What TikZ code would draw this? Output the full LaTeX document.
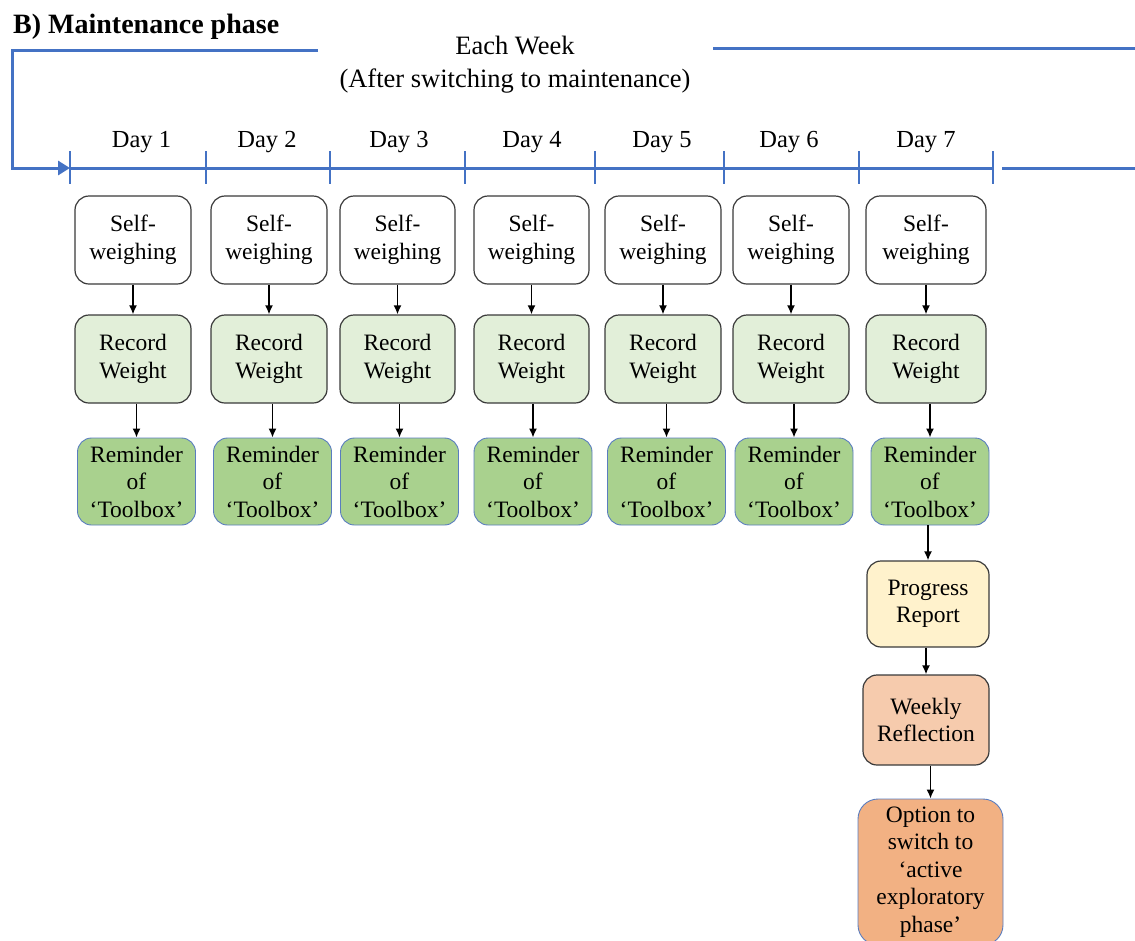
\documentclass[tikz,border=0pt]{standalone}
\usepackage{fontspec}
\setmainfont{Liberation Serif}
\usetikzlibrary{arrows.meta}

\definecolor{axisblue}{HTML}{4472C4}
\definecolor{boxline}{HTML}{3A3A3A}
\definecolor{remblue}{HTML}{5A7DBF}
\definecolor{recgreen}{HTML}{E2EFD9}
\definecolor{remgreen}{HTML}{A9D18E}
\definecolor{progyellow}{HTML}{FFF2CC}
\definecolor{reflpeach}{HTML}{F6CBAD}
\definecolor{optorange}{HTML}{F2B183}

\tikzset{
  stepbox/.style={draw=boxline, line width=1.2pt, rounded corners=14pt,
    align=center, inner sep=0pt, minimum width=116pt, minimum height=88pt,
    font=\fontsize{23.5}{27.5}\selectfont},
  weighbox/.style={stepbox, fill=white},
  recordbox/.style={stepbox, fill=recgreen},
  remindbox/.style={stepbox, draw=remblue, line width=0.9pt, fill=remgreen,
    minimum width=118pt, minimum height=87pt},
  progressbox/.style={stepbox, fill=progyellow, minimum width=122pt, minimum height=86pt},
  reflectbox/.style={stepbox, fill=reflpeach, minimum width=126pt, minimum height=90pt},
  optionbox/.style={stepbox, draw=remblue, line width=0.9pt, fill=optorange,
    minimum width=145pt, minimum height=146pt, rounded corners=20pt},
  flow/.style={-{Latex[length=9pt,width=8pt]}, line width=1.6pt, black},
  axis/.style={draw=axisblue, line width=3pt},
  tickmark/.style={draw=axisblue, line width=1.4pt},
  daylabel/.style={anchor=base, inner sep=0pt, font=\fontsize{24.5}{29}\selectfont},
  headlabel/.style={anchor=base, inner sep=0pt, font=\fontsize{26.5}{33}\selectfont},
}

\begin{document}
\begin{tikzpicture}[x=1pt, y=-1pt]
\useasboundingbox (0,0) rectangle (1135,940);
\clip (0,0) rectangle (1135,940);

% title and week header
\node[anchor=base west, inner sep=0pt, font=\fontsize{28}{32}\bfseries\selectfont]
  (title) at (13,33) {B) Maintenance phase};
\node[headlabel] (each) at (515,54) {Each Week};
\node[headlabel] (after) at (515,87) {(After switching to maintenance)};

% weekly loop bracket
\coordinate (loopL) at (318,50);
\coordinate (loopR) at (713,48);
\coordinate (loopEnd) at (1135,48);
\coordinate (corner1) at (12,50);
\coordinate (corner2) at (12,168);

% timeline ticks
\foreach \k/\tx in {0/70, 1/206, 2/330, 3/465, 4/595, 5/724, 6/859, 7/993}
  \coordinate (t\k) at (\tx,168);
\coordinate (tailA) at (1002,168);
\coordinate (tailB) at (1135,168);

\draw[axis, line join=miter, -{Triangle[length=12pt,width=14pt]}]
  (loopL) -- (corner1) -- (corner2) -- (t0);
\draw[axis] (loopR) -- (loopEnd);
\draw[axis] (t0) -- (t7);
\draw[axis] (tailA) -- (tailB);
\foreach \k in {0,...,7}
  \draw[tickmark] (t\k) ++(0,-17) -- ++(0,33);

% day labels
\foreach \i/\dx in {1/141.5, 2/267, 3/399, 4/532, 5/662, 6/789, 7/926}
  \node[daylabel] (day\i) at (\dx,147) {Day \i};

% daily steps
\foreach \i/\sx/\sw/\rx in {1/133/116/136.5, 2/269/116/272.5, 3/397.5/115/399.5,
    4/531.5/115/533, 5/663/116/666.5, 6/791/116/794, 7/926/120/930} {
  \node[weighbox, minimum width=\sw pt] (w\i) at (\sx,240) {Self-\\weighing};
  \node[recordbox, minimum width=\sw pt] (r\i) at (\sx,359) {Record\\Weight};
  \node[remindbox] (m\i) at (\rx,481.5) {Reminder\\of\\‘Toolbox’};
  \draw[flow] (w\i.south -| r\i.north) -- (r\i.north);
  \draw[flow] (r\i.south -| m\i.north) -- (m\i.north);
}

% end-of-week steps
\node[progressbox] (prog) at (928,604) {Progress\\Report};
\node[reflectbox] (refl) at (926,720) {Weekly\\Reflection};
\node[optionbox] (opt) at (930.5,872) {Option to\\switch to\\‘active\\exploratory\\phase’};

\draw[flow] (m7.south -| prog.north) -- (prog.north);
\draw[flow] (prog.south -| refl.north) -- (refl.north);
\draw[flow] (refl.south -| opt.north) -- (opt.north);
\end{tikzpicture}
\end{document}
